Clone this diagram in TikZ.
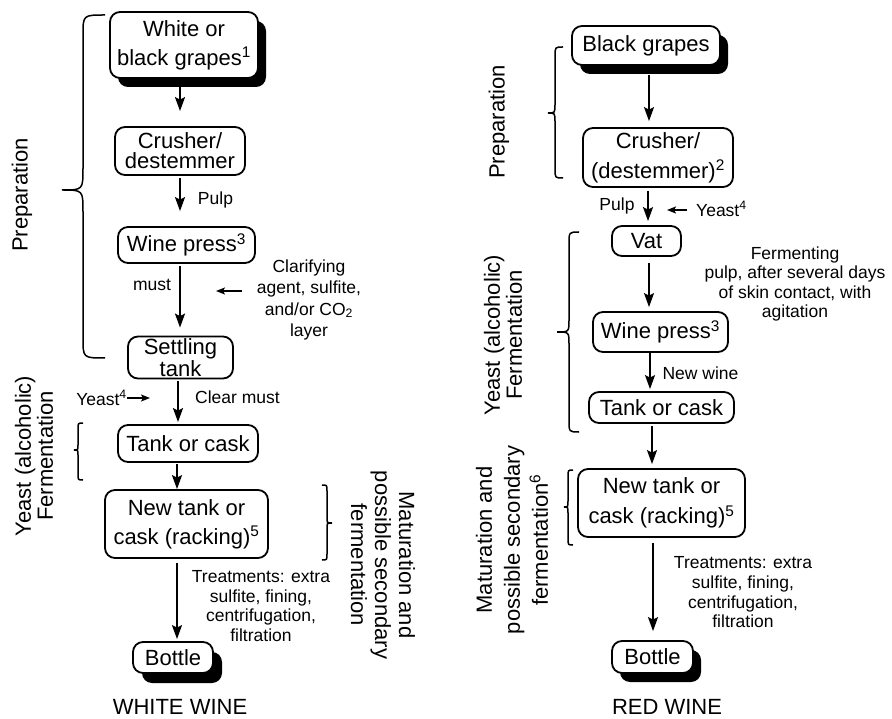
\documentclass[tikz,border=0pt]{standalone}
\usepackage{fontspec}
\setmainfont{Liberation Sans}
\usetikzlibrary{arrows.meta,shadows}
\newcommand\bigfs[1]{\fontsize{22}{#1}\selectfont}
\newcommand\smfsb[1]{\fontsize{17.5}{#1}\selectfont}
\tikzset{
  box/.style={draw, line width=1.8pt, rounded corners=10pt, fill=white, align=center, inner sep=0pt, font=\bigfs{26}},
  shbox/.style={box, general shadow={fill=black, shadow xshift=8pt, shadow yshift=-9pt}},
  arr/.style={line width=1.8pt, -{Stealth[length=14pt,width=10pt,inset=2.5pt]}},
  sarr/.style={line width=1.5pt, -{Stealth[length=9pt,width=7pt,inset=2pt]}},
  lbl/.style={font=\smfsb{19.7}, align=center, inner sep=0pt},
  rlbl/.style={font=\bigfs{22}, align=center, inner sep=0pt},
  brc/.style={line width=1.5pt},
}
\begin{document}
\begin{tikzpicture}[x=1pt,y=-1pt]
\useasboundingbox (0,0) rectangle (892,719);
% ---------------- WHITE WINE ----------------
\node[shbox, minimum width=148pt, minimum height=66pt, font=\bigfs{29}] (g1) at (184,45) {White or\\black grapes\textsuperscript{1}};
\node[box, minimum width=130pt, minimum height=48pt, font=\bigfs{20}] (c1) at (180,151) {Crusher/\\destemmer};
\node[box, minimum width=137pt, minimum height=36pt] (w1) at (186.5,245) {Wine press\textsuperscript{3}};
\node[box, minimum width=105pt, minimum height=42pt, font=\bigfs{20}] (s1) at (180.5,357.5) {Settling\\tank};
\node[box, minimum width=140pt, minimum height=37pt] (t1) at (188,443.5) {Tank or cask};
\node[box, minimum width=163pt, minimum height=68pt, font=\bigfs{29}] (n1) at (186.5,524) {New tank or\\cask (racking)\textsuperscript{5}};
\node[box, minimum width=80pt, minimum height=31pt, general shadow={fill=black, shadow xshift=9pt, shadow yshift=-10pt}] (b1) at (173,657.5) {Bottle};

\coordinate (La) at (180,0);
\coordinate (Lb) at (178,0);
\coordinate (Lc) at (177,0);
\draw[arr, shorten <=7pt, shorten >=15pt] (g1.south -| La) -- (c1.north -| La);
\draw[arr, shorten <=2pt, shorten >=15pt] (c1.south -| La) -- (w1.north -| La);
\draw[arr, shorten <=2pt, shorten >=8pt] (w1.south -| La) -- (s1.north -| La);
\draw[arr, shorten <=2pt, shorten >=2pt] (s1.south -| Lb) -- (t1.north -| Lb);
\draw[arr, shorten <=1pt] (t1.south -| Lc) -- (n1.north -| Lc);
\draw[arr, shorten <=4pt, shorten >=2pt] (n1.south -| Lc) -- (b1.north -| Lc);

\node[lbl] (pulp1) at (215.5,200) {Pulp};
\node[lbl] (must1) at (152,285) {must};
\node[lbl, font=\smfsb{21.5}] (clar) at (309,300) {Clarifying\\agent, sulfite,\\and/or CO\textsubscript{2}\\layer};
\coordinate (clarA) at (242,291);
\coordinate (clarB) at (216,291);
\draw[sarr] (clarA) -- (clarB);
\node[lbl, anchor=east] (yeast1) at (127,398) {Yeast\textsuperscript{4}};
\coordinate (yeast1B) at (150,398);
\draw[sarr] (yeast1.east) -- (yeast1B);
\node[lbl] (clear1) at (237.5,397) {Clear must};
\node[lbl] (treat1) at (261,606) {Treatments: extra\\sulfite, fining,\\centrifugation,\\filtration};
\node[rlbl] (ww) at (180,707) {WHITE WINE};

\node[rlbl, rotate=90] (prep1) at (22,195) {Preparation};
\node[rlbl, rotate=90] (yf1) at (34,456) {Yeast (alcoholic)\\Fermentation};
\node[rlbl, rotate=-90, font=\bigfs{24}] (mat1) at (383,565) {Maturation and\\possible secondary\\fermentation};

\draw[brc] (105,15) .. controls (83,15) .. (83,35) -- (83,168) .. controls (83,190) .. (62,190) .. controls (83,190) .. (83,212) -- (83,338) .. controls (83,358) .. (105,358);
\draw[brc] (83,423) .. controls (78,423) .. (78,429) -- (78,445) .. controls (78,450) .. (74,450) .. controls (78,450) .. (78,455) -- (78,474) .. controls (78,480) .. (83,480);
\draw[brc] (322,485) .. controls (327,485) .. (327,491) -- (327,518) .. controls (327,523) .. (332,523) .. controls (327,523) .. (327,528) -- (327,554) .. controls (327,560) .. (322,560);

% ---------------- RED WINE ----------------
\node[shbox, minimum width=148pt, minimum height=39pt] (g2) at (646,45.5) {Black grapes};
\node[box, minimum width=150pt, minimum height=59pt, font=\bigfs{30}] (c2) at (658,157.5) {Crusher/\\(destemmer)\textsuperscript{2}};
\node[box, minimum width=69pt, minimum height=30pt] (v2) at (646.5,241) {Vat};
\node[box, minimum width=135pt, minimum height=40pt] (w2) at (660.5,332) {Wine press\textsuperscript{3}};
\node[box, minimum width=145pt, minimum height=31pt] (t2) at (661.5,407.5) {Tank or cask};
\node[box, minimum width=167pt, minimum height=68pt, font=\bigfs{30}] (n2) at (661.5,503) {New tank or\\cask (racking)\textsuperscript{5}};
\node[box, minimum width=81pt, minimum height=32pt, general shadow={fill=black, shadow xshift=8pt, shadow yshift=-9pt}] (b2) at (652.5,657) {Bottle};

\coordinate (Ra) at (649,0);
\coordinate (Rb) at (648,0);
\coordinate (Rc) at (650,0);
\coordinate (Rd) at (652,0);
\coordinate (Re) at (653,0);
\draw[arr, shorten <=9pt, shorten >=6pt] (g2.south -| Ra) -- (c2.north -| Ra);
\draw[arr, shorten <=3pt, shorten >=4pt] (c2.south -| Rb) -- (v2.north -| Rb);
\draw[arr, shorten <=6pt, shorten >=4pt] (v2.south -| Ra) -- (w2.north -| Ra);
\draw[arr, shorten >=2pt] (w2.south -| Rc) -- (t2.north -| Rc);
\draw[arr, shorten <=2pt, shorten >=4pt] (t2.south -| Rd) -- (n2.north -| Rd);
\draw[arr, shorten <=5pt, shorten >=9pt] (n2.south -| Re) -- (b2.north -| Re);

\node[lbl] (pulp2) at (617,206) {Pulp};
\node[lbl, anchor=west] (yeast2) at (696,209) {Yeast\textsuperscript{4}};
\coordinate (yeast2B) at (667,210);
\coordinate (yeast2A) at (687,210);
\draw[sarr] (yeast2A) -- (yeast2B);
\node[lbl, font=\smfsb{19.5}] (ferm) at (795,284) {Fermenting\\pulp, after several days\\of skin contact, with\\agitation};
\node[lbl] (nw) at (700.5,373) {New wine};
\node[lbl] (treat2) at (743,592.5) {Treatments: extra\\sulfite, fining,\\centrifugation,\\filtration};
\node[rlbl] (rw) at (667,707) {RED WINE};

\node[rlbl, rotate=90] (prep2) at (499,122) {Preparation};
\node[rlbl, rotate=90] (yf2) at (503,335) {Yeast (alcoholic)\\Fermentation};
\node[rlbl, rotate=90, font=\bigfs{28}] (mat2) at (512,540) {Maturation and\\possible secondary\\fermentation\textsuperscript{6}};

\draw[brc] (563,47) .. controls (555,47) .. (555,56) -- (555,104) .. controls (555,113) .. (548,113) .. controls (555,113) .. (555,122) -- (555,169) .. controls (555,178) .. (563,178);
\draw[brc] (579,232) .. controls (569,232) .. (569,244) -- (569,320) .. controls (569,332) .. (557,332) .. controls (569,332) .. (569,344) -- (569,420) .. controls (569,432) .. (579,432);
\draw[brc] (573,470) .. controls (568,470) .. (568,477) -- (568,501) .. controls (568,507) .. (564,507) .. controls (568,507) .. (568,513) -- (568,538) .. controls (568,545) .. (573,545);
\end{tikzpicture}
\end{document}
